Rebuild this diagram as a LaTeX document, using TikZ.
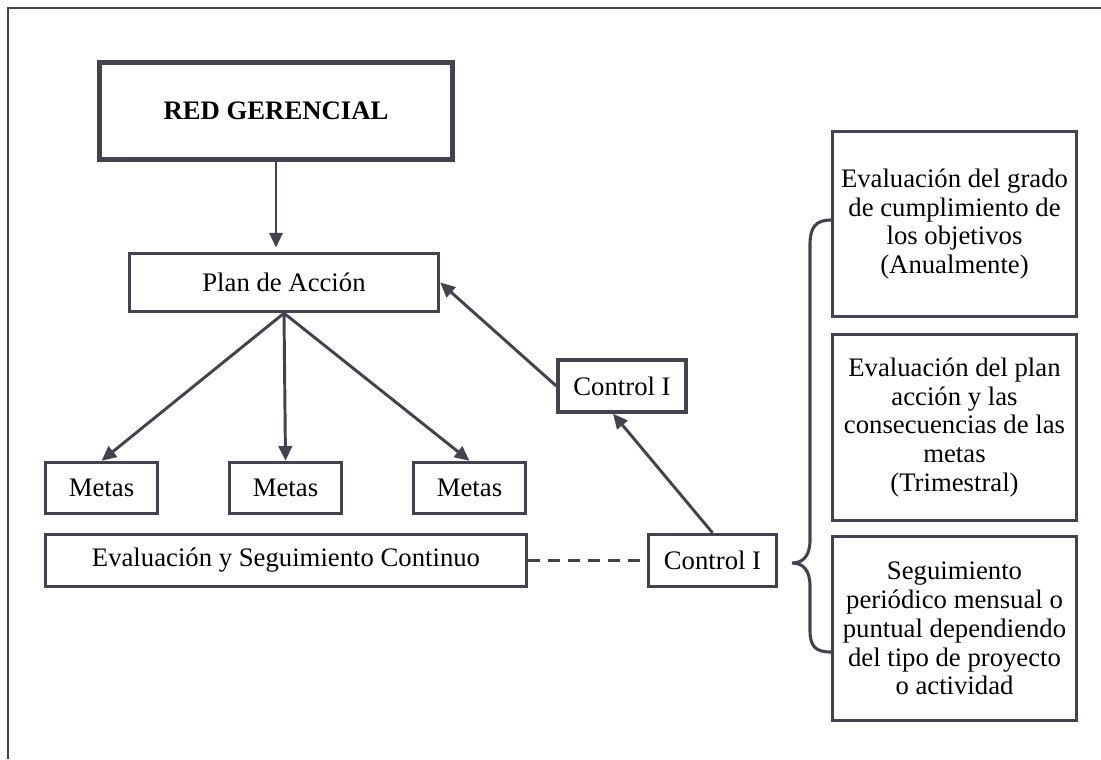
\documentclass[tikz,border=0pt]{standalone}
\usepackage{fontspec}
\setmainfont{Liberation Serif}
\usetikzlibrary{arrows.meta,calc}
\definecolor{linegray}{RGB}{67,67,79}
\tikzset{
  boxnode/.style={draw=linegray, line width=2.4pt, align=center, inner sep=0pt,
    font=\fontsize{19pt}{20.5pt}\selectfont},
  flecha/.style={draw=linegray, line width=2.1pt, -{Triangle[length=10.5pt,width=9.5pt]}},
}

\begin{document}
\begin{tikzpicture}[x=0.025cm,y=-0.025cm]
		%%%%% START %%%%%
		\useasboundingbox (0,0) rectangle (1101,759);
		\draw[linegray, line width=1.8pt] (8,759) -- (8,8) -- (1101,8);
		
		\node[boxnode, line width=3.5pt, minimum width=8.825cm, minimum height=2.425cm,
		  font=\fontsize{19pt}{21pt}\selectfont\bfseries] (red) at (276,111) {RED GERENCIAL};
		\node[boxnode, minimum width=7.725cm, minimum height=1.45cm] (plan) at (284,282.5) {Plan de Acción};
		
		\node[boxnode, minimum width=2.8cm, minimum height=1.275cm] (metas1) at (101.5,488) {Metas};
		\node[boxnode, minimum width=2.8cm, minimum height=1.275cm] (metas2) at (285.5,488) {Metas};
		\node[boxnode, minimum width=2.8cm, minimum height=1.275cm] (metas3) at (469.5,488) {Metas};
		\node[boxnode, minimum width=12.025cm, minimum height=1.3cm] (eval) at (286,560.5) {Evaluación y Seguimiento Continuo};
		
		\node[boxnode, minimum width=3.2cm, minimum height=1.3cm] (ctrlA) at (622,386) {Control I};
		\node[boxnode, minimum width=3.2cm, minimum height=1.3cm] (ctrlB) at (712.5,560.5) {Control I};
		
		\node[boxnode, minimum width=6.1cm, minimum height=4.625cm] (anual) at (954.5,224)
		  {Evaluación del grado\\de cumplimiento de\\los objetivos\\(Anualmente)};
		\node[boxnode, minimum width=6.1cm, minimum height=4.65cm] (trim) at (954.5,427.5)
		  {Evaluación del plan\\acción y las\\consecuencias de las\\metas\\(Trimestral)};
		\node[boxnode, minimum width=6.1cm, minimum height=4.6cm] (mens) at (954.5,628.5)
		  {Seguimiento\\periódico mensual o\\puntual dependiendo\\del tipo de proyecto\\o actividad};
		
		\draw[flecha, line width=1.5pt] (red.south) -- ([yshift=3pt]red.south |- plan.north);
		\draw[flecha] (plan.south) -- (metas1.north);
		\draw[flecha] (plan.south) -- (metas2.north);
		\draw[flecha] (plan.south) -- (metas3.north);
		
		\draw[flecha] (ctrlA.west) -- (plan.east);
		\draw[flecha] (ctrlB.north) -- ($(ctrlA.south)+(-9,0)$);
		\draw[linegray, line width=1.8pt, dash pattern=on 8.5pt off 5.7pt] (eval.east) -- (ctrlB.west);
		
		% llave
		\draw[linegray, line width=2.2pt] (831,220) .. controls (815,220) and (810,228) .. (810,245)
		  -- (810,540) .. controls (810,556) and (803,563) .. (792,563)
		  .. controls (803,563) and (810,570) .. (810,586)
		  -- (810,630) .. controls (810,646) and (815,652) .. (831,652);
		%%%%% END %%%%%
\end{tikzpicture}
\end{document}
